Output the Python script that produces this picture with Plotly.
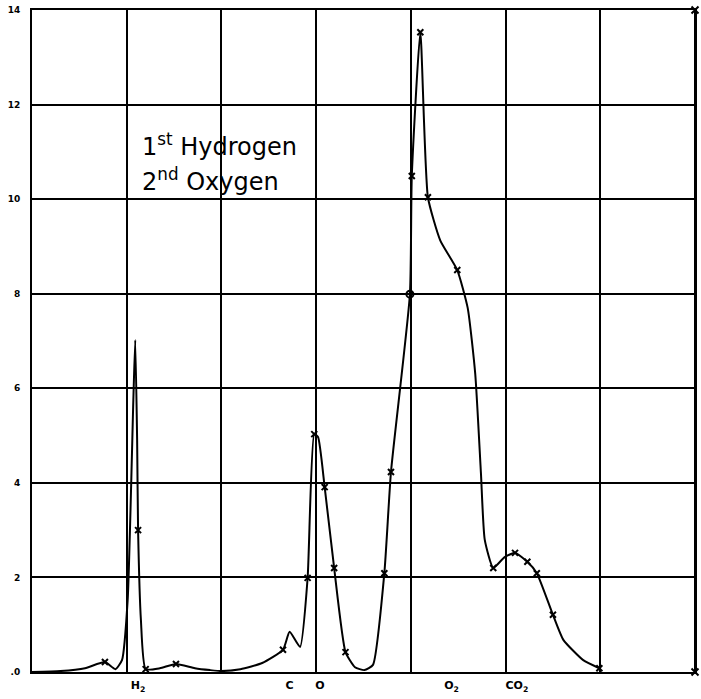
import plotly.graph_objects as go

# curve (x in grid columns, y in chart units)
pos = [0.0, 0.30, 0.56, 0.77, 0.88, 0.95, 1.01, 1.07, 1.09, 1.11, 1.12, 1.15, 1.20,
       1.35, 1.52, 1.72, 1.88, 2.0, 2.2, 2.43, 2.65, 2.72, 2.83, 2.91, 2.98, 3.02,
       3.09, 3.19, 3.31, 3.41, 3.51, 3.60, 3.72, 3.79, 3.99, 4.01, 4.10, 4.18, 4.31,
       4.49, 4.60, 4.68, 4.74, 4.78, 4.87, 4.99, 5.10, 5.23, 5.33, 5.50, 5.61, 5.82, 5.99]
val = [0.0, 0.02, 0.08, 0.21, 0.06, 0.25, 1.52, 5.75, 7.02, 4.9, 3.0, 1.1, 0.06,
       0.08, 0.17, 0.08, 0.04, 0.02, 0.06, 0.19, 0.47, 0.85, 0.53, 1.99, 5.03, 4.97,
       3.91, 2.2, 0.42, 0.1, 0.04, 0.15, 2.09, 4.23, 7.99, 10.49, 13.53, 10.04, 9.13,
       8.5, 7.7, 6.3, 4.2, 2.8, 2.2, 2.43, 2.52, 2.33, 2.09, 1.21, 0.68, 0.25, 0.08]
marked = [3, 10, 12, 14, 20, 23, 24, 26, 27, 28, 32, 33, 35, 36, 37, 39, 44, 46, 47, 48, 49, 52]

gas_pos = [1.12, 2.72, 3.04, 4.43, 5.12]
gas_labels = ["<b>H<sub>2</sub></b>", "<b>C</b>", "<b>O</b>", "<b>O<sub>2</sub></b>", "<b>CO<sub>2</sub></b>"]
y_ticks = [0, 2, 4, 6, 8, 10, 12, 14]
y_labels = ["<b>.0</b>", "<b>2</b>", "<b>4</b>", "<b>6</b>", "<b>8</b>", "<b>10</b>", "<b>12</b>", "<b>14</b>"]

fig = go.Figure()
fig.add_trace(go.Scatter(x=pos, y=val, mode="lines",
                         line=dict(color="black", width=2, shape="spline", smoothing=0.5)))
fig.add_trace(go.Scatter(x=[pos[i] for i in marked], y=[val[i] for i in marked], mode="markers",
                         marker=dict(symbol="x-thin", size=6, color="black",
                                     line=dict(color="black", width=2))))
fig.add_trace(go.Scatter(x=[pos[34]], y=[val[34]], mode="markers",
                         marker=dict(symbol="circle-open", size=7, color="black",
                                     line=dict(width=2))))
fig.add_trace(go.Scatter(x=[7, 7], y=[0, 14], mode="markers", cliponaxis=False,
                         marker=dict(symbol="x-thin", size=7, color="black",
                                     line=dict(color="black", width=2))))

fig.add_annotation(x=1.14, y=11.15, xanchor="left", showarrow=False,
                   text="1<sup>st</sup> Hydrogen",
                   font=dict(family="DejaVu Sans", size=24, color="black"))
fig.add_annotation(x=1.14, y=10.4, xanchor="left", showarrow=False,
                   text="2<sup>nd</sup> Oxygen",
                   font=dict(family="DejaVu Sans", size=24, color="black"))

# right frame edge (the mirrored y line does not show up there)
fig.add_shape(type="line", xref="paper", yref="paper", x0=1, x1=1, y0=0, y1=1,
              line=dict(color="black", width=2))

fig.update_layout(
    width=701, height=699,
    margin=dict(l=32, r=6, t=10, b=27),
    plot_bgcolor="white", paper_bgcolor="white",
    showlegend=False,
    xaxis=dict(range=[0, 7], tickvals=gas_pos, ticktext=gas_labels, showgrid=False,
               zeroline=False, showline=True, mirror=True, linecolor="black", linewidth=2,
               ticks="", automargin=False, ticklabelstandoff=2,
               tickfont=dict(family="DejaVu Sans", size=11, color="black"),
               minor=dict(tick0=0, dtick=1, showgrid=True, gridcolor="black", gridwidth=2)),
    yaxis=dict(range=[0, 14], tickvals=y_ticks, ticktext=y_labels, showgrid=True,
               gridcolor="black", gridwidth=2, zeroline=False, showline=True, mirror=True,
               linecolor="black", linewidth=2, ticks="", ticklabelstandoff=8, automargin=False,
               tickfont=dict(family="DejaVu Sans", size=9, color="black")),
)

# drop the default 8px body margin so the figure fills the window exactly
fig.write_html("out.html", config={"displayModeBar": False},
               post_script="document.body.style.margin='0';")
